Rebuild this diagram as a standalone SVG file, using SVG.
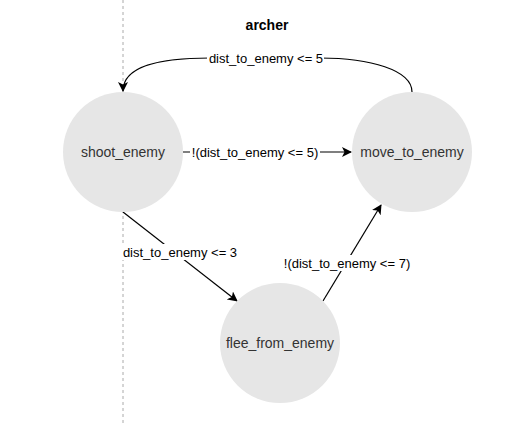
<svg xmlns="http://www.w3.org/2000/svg" width="529" height="426" viewBox="0 0 529 426">
<style>
.node circle{fill:#e6e6e6;stroke:none}
.node text{font-family:"Liberation Sans",Arial,sans-serif;font-size:14px;fill:#333;text-anchor:middle}
.edge path{fill:none;stroke:#000;stroke-width:1.2}
.lbl rect{fill:#fff}
.lbl text{font-family:"Liberation Sans",Arial,sans-serif;font-size:13px;fill:#000;text-anchor:middle}
.title{font-family:"Liberation Sans",Arial,sans-serif;font-size:14px;font-weight:bold;text-anchor:middle}
</style>
<defs>
<marker id="arr" viewBox="0 0 10 10" refX="9" refY="5" markerWidth="10" markerHeight="10" markerUnits="userSpaceOnUse" orient="auto">
<path d="M0,0 L10,5 L0,10 L2.5,5 Z" fill="#000"/>
</marker>
</defs>
<rect width="529" height="426" fill="#fff"/>
<line x1="123" y1="0" x2="123" y2="426" stroke="#aaa" stroke-width="1" stroke-dasharray="3,3"/>
<text class="title" x="267" y="30">archer</text>
<g id="connectors" class="edge">
<path d="M412,92 C412,70 370,58 320,58 L210,58 C160,58 123,66 123,91" marker-end="url(#arr)"/>
<path d="M183,152 L351,152" marker-end="url(#arr)"/>
<path d="M123,212 L237,301" marker-end="url(#arr)"/>
<path d="M323,301 L381,205" marker-end="url(#arr)"/>
<g class="lbl">
<rect x="207" y="50" width="117" height="16"/>
<text x="266" y="62.5">dist_to_enemy &lt;= 5</text>
<rect x="190" y="144" width="130" height="16"/>
<text x="255" y="156.5">!(dist_to_enemy &lt;= 5)</text>
<rect x="122" y="244" width="117" height="16"/>
<text x="180" y="256.5">dist_to_enemy &lt;= 3</text>
<rect x="282" y="255" width="130" height="16"/>
<text x="347" y="267.5">!(dist_to_enemy &lt;= 7)</text>
</g>
</g>
<g id="shoot_enemy" class="node">
<circle cx="123" cy="152" r="60"/>
<text x="123" y="157">shoot_enemy</text>
</g>
<g id="move_to_enemy" class="node">
<circle cx="412" cy="152" r="60"/>
<text x="412" y="157">move_to_enemy</text>
</g>
<g id="flee_from_enemy" class="node">
<circle cx="280" cy="343" r="60"/>
<text x="280" y="348">flee_from_enemy</text>
</g>
</svg>
